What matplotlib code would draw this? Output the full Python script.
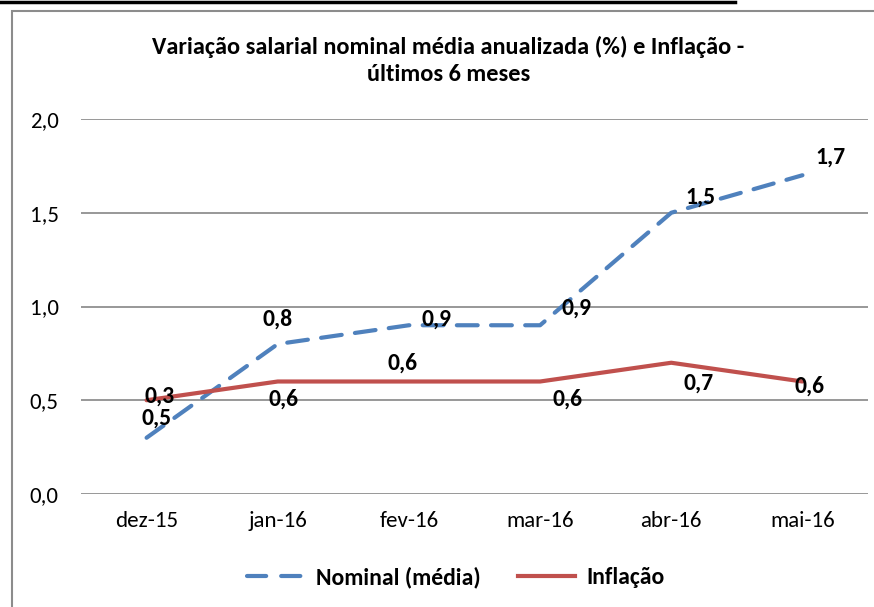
import matplotlib
matplotlib.use("Agg")
import matplotlib.pyplot as plt
from matplotlib.patches import Rectangle
from matplotlib.lines import Line2D
from matplotlib import font_manager

# ── dados ────────────────────────────────────────────────────────────────────
meses = ["dez-15", "jan-16", "fev-16", "mar-16", "abr-16", "mai-16"]
nominal = [0.3, 0.8, 0.9, 0.9, 1.5, 1.7]
inflacao = [0.5, 0.6, 0.6, 0.6, 0.7, 0.6]
y_ticks = [0.0, 0.5, 1.0, 1.5, 2.0]

# deslocamento dos rótulos (pixels), imitando o Excel
off_nominal = [(13, 42), (0, 25), (28, 6), (36, 17), (29, 16), (28, 18)]
off_inflacao = [(10, -18), (6, -18), (-6, 18), (27, -18), (27, -20), (7, -5)]

AZUL = "#4F81BD"
VERMELHO = "#C0504D"
CINZA = "#868686"

available = {f.name for f in font_manager.fontManager.ttflist}
fams = [f for f in ["Carlito", "Liberation Sans Narrow", "Open Sans", "DejaVu Sans"] if f in available]
plt.rcParams["font.family"] = fams


def fmt(v):
    return f"{v:.1f}".replace(".", ",")


fig = plt.figure(figsize=(8.74, 6.07), dpi=100)
ax = fig.add_axes([81 / 874, 113 / 607, 787 / 874, 375 / 607])

x = list(range(len(meses)))
ax.plot(x, nominal, color=AZUL, lw=3, dashes=(5, 3.2), dash_capstyle="round",
        solid_capstyle="round", label="Nominal (média)", zorder=3)
ax.plot(x, inflacao, color=VERMELHO, lw=3, solid_capstyle="round",
        label="Inflação", zorder=3)

for xi, v, off in zip(x, nominal, off_nominal):
    ax.annotate(fmt(v), (xi, v), xytext=off, textcoords="offset pixels",
                ha="center", va="center", fontsize=17, fontweight="bold", zorder=4)
for xi, v, off in zip(x, inflacao, off_inflacao):
    ax.annotate(fmt(v), (xi, v), xytext=off, textcoords="offset pixels",
                ha="center", va="center", fontsize=17, fontweight="bold", zorder=4)

ax.set_xlim(-0.5, len(meses) - 0.5)
ax.set_ylim(0, 2.0)
ax.set_yticks(y_ticks)
ax.set_yticklabels([fmt(t) for t in y_ticks], fontsize=16.5)
ax.set_xticks(x)
ax.set_xticklabels(meses, fontsize=16.5)
ax.tick_params(axis="both", length=0)
ax.tick_params(axis="x", pad=12)
ax.tick_params(axis="y", pad=16)
ax.grid(axis="y", color=CINZA, lw=1.2)
ax.set_axisbelow(True)
for s in ax.spines.values():
    s.set_visible(False)

fig.text(0.513, 0.9, "Variação salarial nominal média anualizada (%) e Inflação -\núltimos 6 meses",
         ha="center", va="center", fontsize=17.5, fontweight="bold", linespacing=1.38)

handles = [
    Line2D([], [], color=AZUL, lw=3, dashes=(4.6, 3.6), dash_capstyle="round"),
    Line2D([], [], color=VERMELHO, lw=3),
]
leg = fig.legend(handles, ["Nominal (média)", "Inflação"], loc="center",
                 bbox_to_anchor=(0.522, 0.049), ncol=2, frameon=False,
                 prop={"size": 17, "weight": "bold"}, handlelength=2.4,
                 handletextpad=0.5, columnspacing=1.6)

# moldura do gráfico e linha preta no topo
fig.add_artist(Rectangle((12 / 874, -0.05), 1.0, (596 / 607) + 0.05,
                         transform=fig.transFigure, fill=False, ec="#8C8C8C", lw=1.5))
fig.add_artist(Line2D([0, 735 / 874], [1 - 2 / 607, 1 - 2 / 607],
                      transform=fig.transFigure, color="black", lw=2.5))

fig.savefig("out.png", dpi=100)
